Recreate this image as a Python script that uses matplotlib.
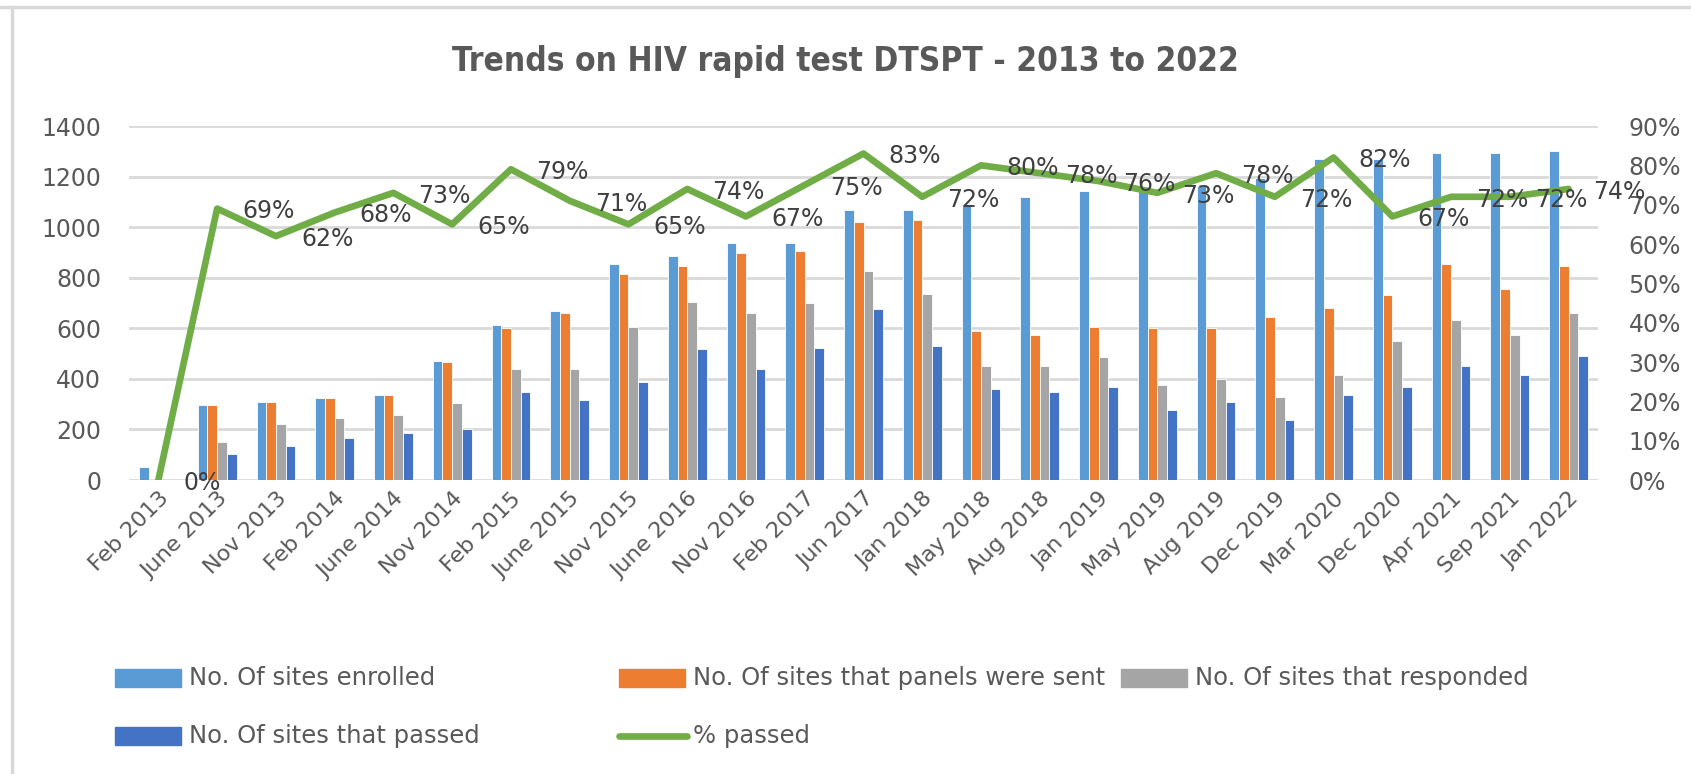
import matplotlib
matplotlib.use("Agg")
import matplotlib.pyplot as plt
import matplotlib.patches as mpatches
from matplotlib.lines import Line2D
from matplotlib.ticker import FuncFormatter
import numpy as np

plt.rcParams['font.family'] = ['DejaVu Sans']

# data
rounds = ['Feb 2013', 'June 2013', 'Nov 2013', 'Feb 2014', 'June 2014', 'Nov 2014',
          'Feb 2015', 'June 2015', 'Nov 2015', 'June 2016', 'Nov 2016', 'Feb 2017',
          'Jun 2017', 'Jan 2018', 'May 2018', 'Aug 2018', 'Jan 2019', 'May 2019',
          'Aug 2019', 'Dec 2019', 'Mar 2020', 'Dec 2020', 'Apr 2021', 'Sep 2021', 'Jan 2022']
enrolled = [50, 298, 310, 323, 336, 472, 614, 667, 853, 886, 937, 937, 1066, 1066,
            1093, 1118, 1144, 1155, 1163, 1195, 1268, 1268, 1294, 1294, 1301]
sent = [0, 298, 310, 323, 336, 465, 601, 659, 815, 848, 899, 906, 1022, 1028,
        588, 575, 606, 601, 601, 646, 679, 730, 854, 757, 848]
responded = [0, 149, 220, 245, 258, 303, 439, 439, 606, 705, 659, 699, 828, 737,
             452, 452, 485, 374, 401, 330, 414, 550, 634, 575, 659]
passed = [0, 103, 136, 167, 187, 200, 349, 316, 388, 517, 439, 523, 678, 530,
          361, 348, 368, 277, 310, 237, 335, 368, 452, 414, 490]
pct_passed = [0, 69, 62, 68, 73, 65, 79, 71, 65, 74, 67, 75, 83, 72, 80, 78, 76,
              73, 78, 72, 82, 67, 72, 72, 74]

series = [
    ('No. Of sites enrolled', enrolled, '#5B9BD5'),
    ('No. Of sites that panels were sent', sent, '#ED7D31'),
    ('No. Of sites that responded', responded, '#A5A5A5'),
    ('No. Of sites that passed', passed, '#4472C4'),
]
line_name = '% passed'
line_col = '#70AD47'
txt = '#595959'

W, H = 1691, 774
fig = plt.figure(figsize=(W / 100, H / 100), dpi=100)
ax = fig.add_axes([129 / W, 1 - 480 / H, (1598 - 129) / W, (480 - 126) / H])
ax2 = ax.twinx()

x = np.arange(len(rounds))
bw = 0.165
for i, (name, vals, col) in enumerate(series):
    ax.bar(x + (i - 1.5) * bw, vals, bw, color=col, edgecolor='white',
           linewidth=0.6, zorder=2)

ax.set_xlim(-0.5, len(rounds) - 0.5)
ax.set_ylim(0, 1400)
ax.set_yticks(range(0, 1401, 200))
ax.yaxis.grid(True, color='#D9D9D9', linewidth=2)
ax.set_axisbelow(True)
for s in ax.spines.values():
    s.set_visible(False)
ax.tick_params(axis='y', length=0, pad=20, labelsize=17, labelcolor=txt)
ax.tick_params(axis='x', length=0, pad=6, labelsize=16, labelcolor=txt)
ax.set_xticks(x)
ax.set_xticklabels(rounds, rotation=45, ha='right', rotation_mode='anchor')

pct = np.array(pct_passed) / 100
ax2.plot(x, pct, color=line_col, linewidth=4.8, solid_joinstyle='round',
         solid_capstyle='round', zorder=3)
ax2.set_ylim(0, 0.9)
ax2.set_yticks(np.arange(0, 0.91, 0.1))
ax2.yaxis.set_major_formatter(FuncFormatter(lambda v, p: f'{v * 100:.0f}%'))
for s in ax2.spines.values():
    s.set_visible(False)
ax2.tick_params(axis='y', length=0, pad=22, labelsize=17, labelcolor=txt)

for xi, v in zip(x, pct):
    ax2.annotate(f'{v * 100:.0f}%', (xi, v), xytext=(18, -2),
                 textcoords='offset points', ha='left', va='center',
                 fontsize=17, color='#404040', zorder=4)

fig.text(0.5, 1 - 62 / H, 'Trends on HIV rapid test DTSPT - 2013 to 2022',
         ha='center', va='center', fontsize=24, fontweight='bold', color=txt,
         fontstretch='condensed')

# legend, laid out like the spreadsheet one
slots = [(115, 678), (619, 678), (1121, 678), (115, 736), (619, 736)]
for (px, py), (name, vals, col) in zip(slots, series):
    fig.add_artist(mpatches.Rectangle((px / W, 1 - (py + 9) / H), 66 / W, 18 / H,
                                      transform=fig.transFigure, color=col))
    fig.text((px + 74) / W, 1 - py / H, name, ha='left', va='center',
             fontsize=17.5, color=txt)
px, py = slots[4]
fig.add_artist(Line2D([px / W, (px + 68) / W], [1 - py / H] * 2, color=line_col,
                      linewidth=4.8, solid_capstyle='round', transform=fig.transFigure))
fig.text((px + 74) / W, 1 - py / H, line_name, ha='left', va='center',
         fontsize=17.5, color=txt)

# chart frame
fig.add_artist(Line2D([0, 1], [1 - 7 / H] * 2, color='#D9D9D9', linewidth=2.5,
                      transform=fig.transFigure))
fig.add_artist(Line2D([12 / W] * 2, [0, 1 - 7 / H], color='#D9D9D9', linewidth=2.5,
                      transform=fig.transFigure))

fig.savefig('out.png', dpi=100)
